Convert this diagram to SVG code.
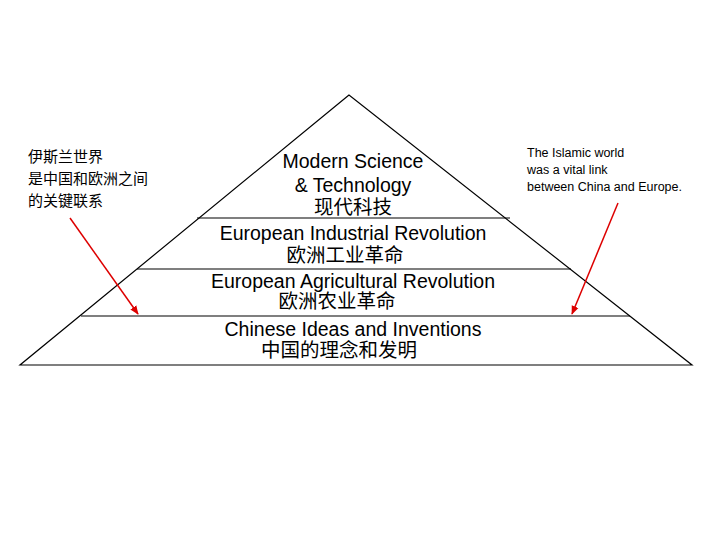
<svg xmlns="http://www.w3.org/2000/svg" width="720" height="540" viewBox="0 0 720 540">
<style>
.l{stroke:#000;stroke-width:1.2;fill:none}
.t{font-family:"Liberation Sans","Noto Sans CJK SC",sans-serif;font-size:19.5px;text-anchor:middle;fill:#000}
.s{font-family:"Liberation Sans","Noto Sans CJK SC",sans-serif;font-size:15px;fill:#000}
.r{font-family:"Liberation Sans",sans-serif;font-size:12.5px;fill:#000}
.a{stroke:#d00;stroke-width:1.5;fill:none;marker-end:url(#ah)}
</style>
<defs><marker id="ah" viewBox="0 0 10 10" refX="9" refY="5" markerWidth="6" markerHeight="6" orient="auto"><path d="M0,1 L10,5 L0,9 z" fill="#d00"/></marker></defs>
<rect width="720" height="540" fill="#fff"/>
<g id="pyramid">
<polygon class="l" points="349,95 20,365 692,365"/>
<line class="l" x1="197" y1="218" x2="510" y2="218"/>
<line class="l" x1="137" y1="269" x2="571" y2="269"/>
<line class="l" x1="81" y1="316" x2="630" y2="316"/>
</g>
<g id="top"><text class="t" x="353" y="168">Modern Science</text><text class="t" x="353" y="192">&amp; Technology</text><text class="t" x="353" y="214">现代科技</text></g>
<g id="industrial"><text class="t" x="353" y="240">European Industrial Revolution</text><text class="t" x="345" y="262">欧洲工业革命</text></g>
<g id="agri"><text class="t" x="353" y="288">European Agricultural Revolution</text><text class="t" x="337" y="308">欧洲农业革命</text></g>
<g id="chinese"><text class="t" x="353" y="336">Chinese Ideas and Inventions</text><text class="t" x="339" y="357">中国的理念和发明</text></g>
<g id="leftnote"><text class="s" x="28" y="162">伊斯兰世界</text><text class="s" x="28" y="184">是中国和欧洲之间</text><text class="s" x="28" y="206">的关键联系</text></g>
<g id="rightnote"><text class="r" x="527" y="157">The Islamic world</text><text class="r" x="527" y="174">was a vital link</text><text class="r" x="527" y="191">between China and Europe.</text></g>
<g id="connectors">
<line class="a" x1="70" y1="218" x2="138" y2="314"/>
<line class="a" x1="618" y1="203" x2="572" y2="314"/>
</g>
</svg>
